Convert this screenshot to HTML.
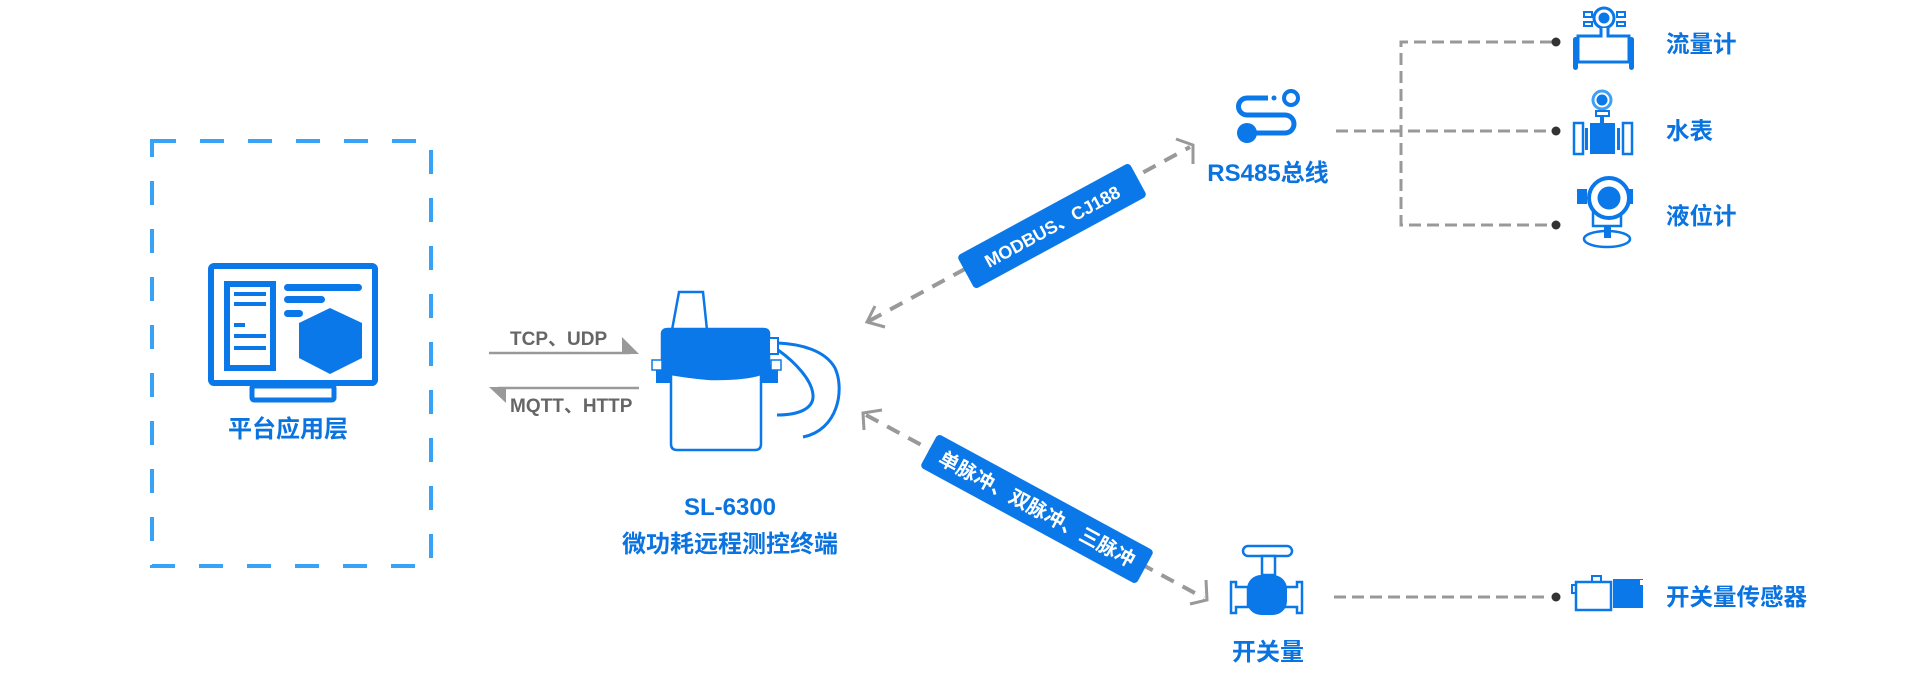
<!DOCTYPE html>
<html><head><meta charset="utf-8"><style>
html,body{margin:0;padding:0;background:#fff;}
svg{display:block}
text{font-family:"Liberation Sans","Noto Sans CJK SC",sans-serif;font-weight:bold}
</style></head><body>
<svg width="1920" height="692" viewBox="0 0 1920 692" xmlns="http://www.w3.org/2000/svg">
<rect x="152" y="141" width="279" height="425" fill="none" stroke="#36a3f7" stroke-width="4" stroke-dasharray="24 24"/>
<g fill="#0a78e8">
<rect x="211" y="266" width="164" height="117" rx="3" fill="none" stroke="#0a78e8" stroke-width="6"/>
<rect x="252" y="386" width="82" height="14" rx="2" fill="none" stroke="#0a78e8" stroke-width="5"/>
<rect x="227" y="284" width="46" height="84" fill="none" stroke="#0a78e8" stroke-width="6"/>
<rect x="234" y="292" width="32" height="4"/><rect x="234" y="302" width="32" height="4"/>
<rect x="234" y="323" width="11" height="4"/><rect x="234" y="334" width="32" height="4"/><rect x="234" y="346" width="32" height="4"/>
<rect x="284" y="284" width="78" height="7" rx="3.5"/><rect x="284" y="296" width="41" height="7" rx="3.5"/><rect x="284" y="310" width="19" height="7" rx="3.5"/>
<polygon points="330,308 362,323 362,358 330,374 299,358 299,323"/>
</g>
<text x="288" y="437" font-size="24" fill="#0a73e0" text-anchor="middle">平台应用层</text>
<text x="510" y="345" font-size="19" fill="#666">TCP、UDP</text>
<line x1="489" y1="353" x2="630" y2="353" stroke="#999" stroke-width="2.5"/>
<polygon points="622,337 639,354 622,354" fill="#999"/>
<line x1="498" y1="388" x2="639" y2="388" stroke="#999" stroke-width="2.5"/>
<polygon points="489,387 506,387 506,403" fill="#999"/>
<text x="510" y="412" font-size="19" fill="#666">MQTT、HTTP</text>
<g stroke="#0a78e8" stroke-width="2.5">
<polygon points="679,292 703,292 707,330 672,330" fill="#fff"/>
<rect x="656" y="365" width="122" height="18" fill="#0a78e8" stroke="none"/>
<path d="M662,334 q0,-5 6,-5 h95 q6,0 6,5 v40 h-107 z" fill="#0a78e8"/>
<rect x="652" y="360" width="10" height="10" fill="#fff" stroke-width="1.5"/>
<rect x="771" y="360" width="10" height="10" fill="#fff" stroke-width="1.5"/>
<path d="M671,374 q30,5 45,5 q30,0 45,-5 v70 q0,6 -6,6 h-78 q-6,0 -6,-6 z" fill="#fff"/>
<rect x="769" y="338" width="9" height="16" fill="#fff" stroke-width="2"/>
<path d="M778,343 C800,344 825,350 835,368 C845,390 838,430 803,437" fill="none" stroke-width="3"/>
<path d="M778,350 C795,362 812,380 813,395 C814,408 800,415 777,415" fill="none" stroke-width="3"/>
</g>
<text x="730" y="515" font-size="24" fill="#0a73e0" text-anchor="middle">SL-6300</text>
<text x="730" y="552" font-size="24" fill="#0a73e0" text-anchor="middle">微功耗远程测控终端</text>
<g stroke="#999" stroke-width="4" fill="none">
<line x1="869" y1="321" x2="1190" y2="147" stroke-dasharray="14 10"/>
<line x1="866" y1="415" x2="1204" y2="598" stroke-dasharray="14 10"/>
<g stroke-width="3">
<polyline points="875,306 867,322 885,327"/>
<polyline points="1176,139 1193,145 1193,164"/>
<polyline points="864,430 863,413 882,410"/>
<polyline points="1206,580 1207,600 1190,604"/>
</g>
</g>
<g transform="translate(1052,226) rotate(-28.5)">
<rect x="-98" y="-19" width="196" height="38" rx="4" fill="#0a78e8"/>
<text x="0" y="7" font-size="18" fill="#fff" text-anchor="middle">MODBUS、CJ188</text>
</g>
<g transform="translate(1037,509) rotate(28.5)">
<rect x="-123" y="-19" width="246" height="38" rx="4" fill="#0a78e8"/>
<text x="0" y="7" font-size="20" fill="#fff" text-anchor="middle">单脉冲、双脉冲、三脉冲</text>
</g>
<g stroke="#0a78e8" stroke-width="5" fill="none">
<path d="M1268,98 H1247 a8.5,8.5 0 0 0 0,17 H1285 a9,9 0 0 1 0,18 H1252"/>
<circle cx="1291" cy="98" r="7" stroke-width="4"/>
</g>
<circle cx="1274" cy="98" r="2.5" fill="#0a78e8"/>
<circle cx="1247" cy="133" r="10" fill="#0a78e8"/>
<text x="1268" y="181" font-size="24" fill="#0a73e0" text-anchor="middle">RS485总线</text>
<g stroke="#999" stroke-width="3" fill="none" stroke-dasharray="12 6">
<line x1="1336" y1="131" x2="1552" y2="131"/>
<polyline points="1552,42 1401,42 1401,225 1552,225"/>
</g>
<g fill="#333"><circle cx="1556" cy="42" r="4.5"/><circle cx="1556" cy="131" r="4.5"/><circle cx="1556" cy="225" r="4.5"/><circle cx="1556" cy="597" r="4.5"/></g>
<g fill="#0a78e8" stroke="#0a78e8">
<circle cx="1604" cy="18" r="10" fill="#fff" stroke-width="3"/><circle cx="1604" cy="18" r="5.5" stroke="none"/>
<rect x="1584" y="12" width="8" height="5" fill="#fff" stroke-width="2"/><rect x="1584" y="22" width="8" height="4" fill="#fff" stroke-width="2"/>
<rect x="1617" y="12" width="8" height="5" fill="#fff" stroke-width="2"/><rect x="1617" y="22" width="8" height="4" fill="#fff" stroke-width="2"/>
<path d="M1601,28 V36 H1578 V62 H1629 V36 H1608 V28" fill="#fff" stroke-width="3"/>
<rect x="1573" y="37" width="5" height="33" rx="2.5" stroke="none"/><rect x="1629" y="37" width="5" height="33" rx="2.5" stroke="none"/>
</g>
<g fill="#0a78e8" stroke="#0a78e8">
<circle cx="1602" cy="100" r="9" fill="#fff" stroke="#3fa0f5" stroke-width="3"/><circle cx="1602" cy="100" r="5.5" stroke="none"/>
<rect x="1596" y="111" width="13" height="5" fill="#fff" stroke-width="2"/>
<rect x="1600" y="116" width="4" height="8" stroke="none"/>
<rect x="1590" y="123" width="25" height="31" stroke="none"/>
<rect x="1585" y="128" width="3" height="22" stroke="none"/><rect x="1617" y="128" width="3" height="22" stroke="none"/>
<rect x="1574" y="123" width="9" height="31" fill="#fff" stroke-width="2.5"/><rect x="1623" y="123" width="9" height="31" fill="#fff" stroke-width="2.5"/>
</g>
<g fill="#0a78e8" stroke="#0a78e8">
<rect x="1577" y="189" width="10" height="15" stroke="none"/><rect x="1623" y="189" width="10" height="15" stroke="none"/>
<path d="M1593,205 V226 H1621 V205" fill="#fff" stroke-width="2.5"/>
<circle cx="1609" cy="198" r="20" fill="#fff" stroke-width="4"/><circle cx="1609" cy="198" r="11.5" stroke="none"/>
<rect x="1604" y="226" width="7" height="12" stroke="none"/>
<ellipse cx="1607" cy="239" rx="23" ry="8" fill="none" stroke-width="2.5"/>
</g>
<g fill="#0a78e8" stroke="#0a78e8">
<rect x="1243" y="546" width="49" height="10" rx="5" fill="#fff" stroke-width="2.5"/>
<rect x="1262" y="556" width="13" height="19" fill="#fff" stroke-width="2.5"/>
<path d="M1231,582 h5 v5 h12 v20 h-12 v6 h-5 z" fill="#fff" stroke-width="2.5"/>
<path d="M1302,582 h-5 v5 h-12 v20 h12 v6 h5 z" fill="#fff" stroke-width="2.5"/>
<rect x="1247" y="575" width="40" height="40" rx="14" stroke="none"/>
</g>
<text x="1268" y="660" font-size="24" fill="#0a73e0" text-anchor="middle">开关量</text>
<line x1="1334" y1="597" x2="1550" y2="597" stroke="#999" stroke-width="3" stroke-dasharray="12 6"/>
<g fill="#0a78e8" stroke="#0a78e8">
<rect x="1592" y="576" width="9" height="6" fill="#fff" stroke-width="2"/>
<rect x="1572" y="585" width="4" height="8" fill="#fff" stroke-width="2"/>
<rect x="1576" y="582" width="35" height="28" fill="#fff" stroke-width="2.5"/>
<rect x="1613" y="579" width="30" height="29" stroke="none"/>
<rect x="1640" y="580" width="3" height="5" fill="#fff" stroke="none"/>
</g>
<g font-size="23.5" fill="#0a73e0">
<text x="1666" y="52">流量计</text>
<text x="1666" y="139">水表</text>
<text x="1666" y="224">液位计</text>
<text x="1666" y="605">开关量传感器</text>
</g>
</svg>
</body></html>
